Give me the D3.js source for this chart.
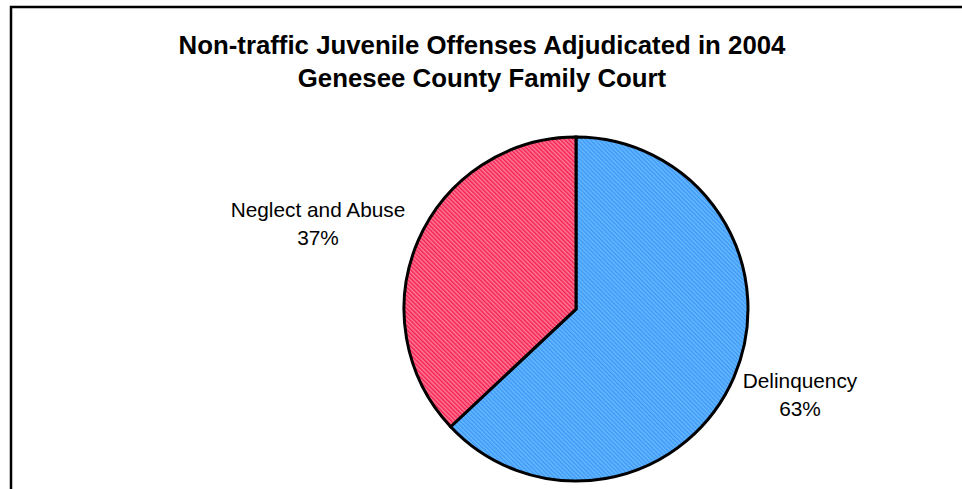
<!DOCTYPE html>
<html>
<head>
<meta charset="utf-8">
<script src="https://cdn.jsdelivr.net/npm/d3@7"></script>
<style>
  body { margin: 0; background: #fff; }
  svg { display: block; }
</style>
</head>
<body>
<div id="chart"></div>
<script>
let categories = ['Delinquency', 'Neglect and Abuse'];
let values = [63, 37];
let pctLabels = ['63%', '37%'];
let titleLines = ['Non-traffic Juvenile Offenses Adjudicated in 2004', 'Genesee County Family Court'];

let width = 962;
let height = 489;
let cx = 576, cy = 309, radius = 172;

let svg = d3.select('#chart').append('svg')
    .attr('width', width)
    .attr('height', height);

// hatch patterns, like the old office fills
let defs = svg.append('defs');
let fills = [
    {id: 'hatchBlue', bg: '#66bbff', fg: '#3f98f8'},
    {id: 'hatchPink', bg: '#ff7d9c', fg: '#f5204f'}
];
fills.forEach(f => {
    let p = defs.append('pattern')
        .attr('id', f.id)
        .attr('patternUnits', 'userSpaceOnUse')
        .attr('width', 3)
        .attr('height', 3)
        .attr('patternTransform', 'rotate(-45)');
    p.append('rect').attr('width', 3).attr('height', 3).attr('fill', f.bg);
    p.append('rect').attr('width', 1.5).attr('height', 3).attr('fill', f.fg);
});

// frame
svg.append('rect')
    .attr('x', 11)
    .attr('y', 7)
    .attr('width', width + 20)
    .attr('height', height + 20)
    .attr('fill', 'none')
    .attr('stroke', '#000')
    .attr('stroke-width', 2.5);

svg.append('g')
    .selectAll('text')
    .data(titleLines)
    .join('text')
    .attr('x', 482)
    .attr('y', (d, i) => 54 + i * 33)
    .attr('text-anchor', 'middle')
    .attr('font-family', 'Liberation Sans, Arial, sans-serif')
    .attr('font-weight', 'bold')
    .attr('font-size', 25.8)
    .text(d => d);

let data = categories.map((c, i) => ({name: c, value: values[i], pct: pctLabels[i]}));

let pie = d3.pie().sort(null).value(d => d.value);
let arc = d3.arc().innerRadius(0).outerRadius(radius);

let g = svg.append('g')
    .attr('transform', `translate(${cx}, ${cy})`);

g.selectAll('path')
    .data(pie(data))
    .join('path')
    .attr('d', arc)
    .attr('fill', (d, i) => `url(#${fills[i].id})`)
    .attr('stroke', '#000')
    .attr('stroke-width', 3)
    .attr('stroke-linejoin', 'miter');

let labelPos = [
    {x: 800, y: 388},
    {x: 318, y: 217}
];

let lbl = svg.append('g')
    .selectAll('text')
    .data(data)
    .join('text')
    .attr('text-anchor', 'middle')
    .attr('font-family', 'Liberation Sans, Arial, sans-serif')
    .attr('font-size', 20.8);

lbl.append('tspan')
    .attr('x', (d, i) => labelPos[i].x)
    .attr('y', (d, i) => labelPos[i].y)
    .text(d => d.name);
lbl.append('tspan')
    .attr('x', (d, i) => labelPos[i].x)
    .attr('y', (d, i) => labelPos[i].y + 27.5)
    .text(d => d.pct);
</script>
</body>
</html>
